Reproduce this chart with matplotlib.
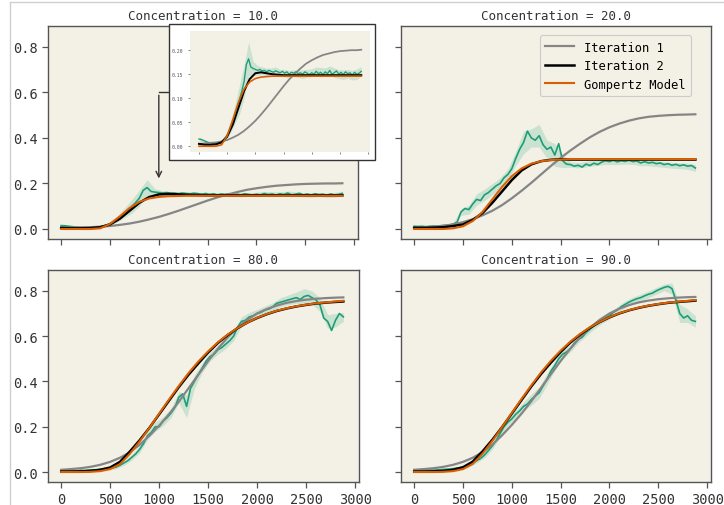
import matplotlib
matplotlib.use("Agg")
import matplotlib.pyplot as plt
import numpy as np
from matplotlib.patches import Rectangle
from matplotlib.lines import Line2D

plt.rcParams["font.family"] = ["DejaVu Sans Mono", "DejaVu Sans"]

# tiempos de las curvas ajustadas y de los datos medidos
t_fit = [0, 100, 200, 300, 400, 500, 600, 700, 800, 900, 1000, 1100, 1200, 1300,
         1400, 1500, 1600, 1700, 1800, 1900, 2000, 2100, 2200, 2300, 2400, 2500,
         2600, 2700, 2800, 2880]
t_data = list(range(0, 2881, 40))
t_band = list(range(0, 2881, 80))

concentrations = [10.0, 20.0, 80.0, 90.0]
labels = ["Iteration 1", "Iteration 2", "Gompertz Model"]

# Concentration = 10
gray_10 = [0.005, 0.006, 0.007, 0.008, 0.010, 0.013, 0.018, 0.024, 0.032, 0.042,
           0.053, 0.066, 0.080, 0.095, 0.110, 0.125, 0.139, 0.151, 0.162, 0.172,
           0.179, 0.185, 0.190, 0.193, 0.196, 0.198, 0.199, 0.200, 0.200, 0.201]
black_10 = [0.005, 0.003, 0.003, 0.004, 0.008, 0.020, 0.045, 0.080, 0.115, 0.140,
            0.152, 0.154, 0.152, 0.150, 0.149, 0.148, 0.148, 0.148, 0.148, 0.148,
            0.148, 0.148, 0.148, 0.148, 0.148, 0.148, 0.148, 0.148, 0.148, 0.148]
orange_10 = [0.000, 0.000, 0.000, 0.000, 0.003, 0.022, 0.055, 0.092, 0.119, 0.134,
             0.141, 0.144, 0.145, 0.146, 0.146, 0.146, 0.146, 0.146, 0.146, 0.146,
             0.146, 0.146, 0.146, 0.146, 0.146, 0.146, 0.146, 0.146, 0.146, 0.146]
green_10 = [0.015, 0.014, 0.012, 0.010, 0.008, 0.007, 0.006, 0.006, 0.007, 0.008,
            0.010, 0.014, 0.020, 0.028, 0.040, 0.052, 0.068, 0.080, 0.098, 0.115,
            0.135, 0.170, 0.182, 0.165, 0.162, 0.160, 0.158, 0.160, 0.157, 0.158,
            0.155, 0.158, 0.156, 0.154, 0.157, 0.155, 0.153, 0.156, 0.152, 0.155,
            0.150, 0.154, 0.152, 0.155, 0.151, 0.153, 0.150, 0.155, 0.152, 0.149,
            0.153, 0.150, 0.156, 0.151, 0.154, 0.149, 0.155, 0.151, 0.158, 0.150,
            0.153, 0.157, 0.150, 0.154, 0.149, 0.155, 0.151, 0.153, 0.148, 0.154,
            0.150, 0.152, 0.156]
spread_10 = [0.004, 0.003, 0.003, 0.003, 0.003, 0.003, 0.006, 0.012, 0.020, 0.030,
             0.035, 0.035, 0.015, 0.010, 0.008, 0.008, 0.007, 0.008, 0.007, 0.008,
             0.008, 0.007, 0.008, 0.009, 0.008, 0.008, 0.009, 0.010, 0.008, 0.009,
             0.010, 0.009, 0.010, 0.009, 0.010, 0.011, 0.010]

# Concentration = 20
gray_20 = [0.005, 0.007, 0.010, 0.014, 0.020, 0.030, 0.043, 0.060, 0.080, 0.105,
           0.135, 0.168, 0.203, 0.240, 0.277, 0.312, 0.345, 0.375, 0.403, 0.427,
           0.447, 0.463, 0.476, 0.486, 0.493, 0.497, 0.500, 0.502, 0.503, 0.504]
black_20 = [0.005, 0.005, 0.006, 0.008, 0.013, 0.020, 0.040, 0.070, 0.115, 0.165,
            0.215, 0.257, 0.284, 0.298, 0.304, 0.306, 0.305, 0.305, 0.305, 0.305,
            0.305, 0.305, 0.305, 0.305, 0.305, 0.305, 0.305, 0.305, 0.305, 0.305]
orange_20 = [0.000, 0.000, 0.000, 0.000, 0.003, 0.012, 0.035, 0.075, 0.130, 0.185,
             0.232, 0.266, 0.287, 0.298, 0.303, 0.305, 0.307, 0.307, 0.307, 0.307,
             0.307, 0.307, 0.307, 0.307, 0.307, 0.307, 0.307, 0.307, 0.307, 0.307]
green_20 = [0.012, 0.011, 0.012, 0.010, 0.012, 0.013, 0.012, 0.015, 0.016, 0.018,
            0.022, 0.030, 0.075, 0.090, 0.085, 0.110, 0.130, 0.125, 0.150, 0.160,
            0.175, 0.190, 0.200, 0.225, 0.240, 0.265, 0.310, 0.350, 0.380, 0.430,
            0.400, 0.390, 0.410, 0.370, 0.350, 0.360, 0.325, 0.375, 0.300, 0.285,
            0.283, 0.276, 0.280, 0.272, 0.285, 0.279, 0.289, 0.283, 0.294, 0.300,
            0.296, 0.302, 0.295, 0.300, 0.297, 0.302, 0.296, 0.299, 0.290, 0.296,
            0.290, 0.293, 0.287, 0.290, 0.283, 0.287, 0.280, 0.284, 0.278, 0.282,
            0.276, 0.279, 0.268]
spread_20 = [0.004, 0.004, 0.004, 0.004, 0.004, 0.005, 0.015, 0.020, 0.025, 0.025,
             0.025, 0.025, 0.025, 0.030, 0.050, 0.040, 0.050, 0.040, 0.050, 0.030,
             0.012, 0.012, 0.012, 0.012, 0.012, 0.013, 0.012, 0.012, 0.012, 0.012,
             0.012, 0.013, 0.012, 0.013, 0.013, 0.014, 0.015]

# Concentration = 80
gray_80 = [0.010, 0.013, 0.017, 0.023, 0.032, 0.045, 0.063, 0.087, 0.120, 0.160,
           0.205, 0.255, 0.310, 0.370, 0.430, 0.490, 0.545, 0.595, 0.637, 0.672,
           0.700, 0.720, 0.735, 0.747, 0.755, 0.761, 0.765, 0.768, 0.770, 0.771]
black_80 = [0.002, 0.002, 0.003, 0.005, 0.010, 0.020, 0.045, 0.090, 0.140, 0.195,
            0.255, 0.315, 0.375, 0.430, 0.480, 0.528, 0.570, 0.605, 0.635, 0.660,
            0.680, 0.697, 0.711, 0.722, 0.731, 0.738, 0.744, 0.748, 0.751, 0.753]
orange_80 = [0.000, 0.000, 0.000, 0.001, 0.004, 0.013, 0.035, 0.080, 0.135, 0.195,
             0.258, 0.320, 0.380, 0.437, 0.488, 0.533, 0.573, 0.607, 0.636, 0.660,
             0.681, 0.698, 0.712, 0.723, 0.732, 0.739, 0.745, 0.749, 0.753, 0.756]
green_80 = [0.005, 0.006, 0.006, 0.007, 0.006, 0.008, 0.007, 0.009, 0.010, 0.010,
            0.012, 0.015, 0.014, 0.018, 0.022, 0.030, 0.040, 0.050, 0.065, 0.080,
            0.100, 0.125, 0.160, 0.175, 0.200, 0.200, 0.225, 0.240, 0.260, 0.285,
            0.330, 0.345, 0.290, 0.370, 0.400, 0.430, 0.460, 0.490, 0.510, 0.520,
            0.540, 0.550, 0.565, 0.580, 0.600, 0.640, 0.665, 0.670, 0.685, 0.690,
            0.700, 0.705, 0.715, 0.720, 0.730, 0.745, 0.750, 0.755, 0.760, 0.765,
            0.770, 0.762, 0.775, 0.780, 0.770, 0.760, 0.740, 0.680, 0.665, 0.625,
            0.670, 0.700, 0.685]
spread_80 = [0.004, 0.004, 0.004, 0.004, 0.004, 0.004, 0.005, 0.008, 0.010, 0.012,
             0.015, 0.018, 0.020, 0.020, 0.020, 0.025, 0.050, 0.030, 0.020, 0.020,
             0.020, 0.020, 0.020, 0.020, 0.020, 0.018, 0.018, 0.018, 0.020, 0.022,
             0.025, 0.035, 0.030, 0.030, 0.030, 0.030, 0.020]

# Concentration = 90
gray_90 = [0.010, 0.013, 0.017, 0.023, 0.032, 0.045, 0.063, 0.088, 0.121, 0.162,
           0.208, 0.258, 0.313, 0.372, 0.432, 0.490, 0.545, 0.595, 0.637, 0.672,
           0.700, 0.721, 0.737, 0.749, 0.757, 0.763, 0.767, 0.770, 0.772, 0.773]
black_90 = [0.002, 0.002, 0.003, 0.005, 0.010, 0.021, 0.046, 0.091, 0.142, 0.198,
            0.258, 0.318, 0.378, 0.433, 0.483, 0.530, 0.572, 0.607, 0.637, 0.662,
            0.683, 0.700, 0.714, 0.725, 0.734, 0.741, 0.747, 0.751, 0.754, 0.757]
orange_90 = [0.000, 0.000, 0.000, 0.001, 0.004, 0.013, 0.036, 0.081, 0.137, 0.198,
             0.261, 0.323, 0.383, 0.440, 0.491, 0.536, 0.576, 0.610, 0.639, 0.663,
             0.684, 0.701, 0.715, 0.726, 0.735, 0.742, 0.748, 0.752, 0.756, 0.759]
green_90 = [0.008, 0.008, 0.007, 0.008, 0.009, 0.008, 0.010, 0.011, 0.012, 0.013,
            0.015, 0.018, 0.020, 0.025, 0.030, 0.040, 0.050, 0.060, 0.075, 0.095,
            0.115, 0.140, 0.170, 0.200, 0.220, 0.235, 0.255, 0.270, 0.290, 0.300,
            0.320, 0.335, 0.350, 0.380, 0.410, 0.445, 0.470, 0.500, 0.520, 0.530,
            0.545, 0.570, 0.585, 0.595, 0.615, 0.630, 0.645, 0.660, 0.670, 0.680,
            0.690, 0.705, 0.715, 0.730, 0.740, 0.750, 0.758, 0.765, 0.770, 0.778,
            0.785, 0.790, 0.800, 0.808, 0.815, 0.820, 0.810, 0.760, 0.700, 0.680,
            0.690, 0.670, 0.665]
spread_90 = [0.004, 0.004, 0.004, 0.004, 0.004, 0.004, 0.005, 0.008, 0.010, 0.012,
             0.015, 0.015, 0.015, 0.018, 0.020, 0.025, 0.025, 0.025, 0.020, 0.018,
             0.015, 0.015, 0.015, 0.015, 0.015, 0.015, 0.015, 0.015, 0.015, 0.015,
             0.015, 0.015, 0.015, 0.025, 0.040, 0.030, 0.025]

BG = "#f3f1e5"
GREEN = "#1b9e77"
ORANGE = "#d95f02"
GRAY = "#858585"
SPINE = "#555555"


def draw_panel(ax, green, spread, gray, black, orange, lw=1.0):
    ax.set_facecolor(BG)
    g = np.array(green)[::2]
    s = np.array(spread)
    ax.fill_between(t_band, g - s, g + s, color=GREEN, alpha=0.18, lw=0)
    ax.plot(t_data, green, color=GREEN, lw=1.2 * lw)
    ax.plot(t_fit, gray, color=GRAY, lw=1.6 * lw, label=labels[0])
    ax.plot(t_fit, black, color="black", lw=1.8 * lw, label=labels[1])
    ax.plot(t_fit, orange, color=ORANGE, lw=1.5 * lw, label=labels[2])


def style_axes(ax, title, show_x, show_y):
    ax.set_xlim(-135, 3040)
    ax.set_ylim(-0.044, 0.892)
    ax.set_xticks(range(0, 3001, 500))
    ax.set_yticks([0.0, 0.2, 0.4, 0.6, 0.8])
    ax.tick_params(colors="#333333", labelsize=9.8, length=4, width=0.9)
    ax.tick_params(axis="x", color=SPINE)
    ax.tick_params(axis="y", color=SPINE)
    if not show_x:
        ax.set_xticklabels([])
    if not show_y:
        ax.set_yticklabels([])
    for sp in ax.spines.values():
        sp.set_color(SPINE)
        sp.set_linewidth(1.0)
    ax.set_title(title, fontsize=9, color="#333333", pad=5)


fig = plt.figure(figsize=(7.24, 5.06), dpi=100)

# marco del notebook
fig.add_artist(Line2D([10 / 724, 10 / 724], [0, 1 - 3 / 506], color="#d0d0d0", lw=1.0))
fig.add_artist(Line2D([10 / 724, 1], [1 - 3 / 506, 1 - 3 / 506], color="#d0d0d0", lw=1.0))

rects = [
    [48 / 724, 1 - 240 / 506, 310 / 724, 213 / 506],
    [401 / 724, 1 - 240 / 506, 310 / 724, 213 / 506],
    [48 / 724, 1 - 483 / 506, 311 / 724, 212 / 506],
    [401 / 724, 1 - 483 / 506, 310 / 724, 212 / 506],
]
series = [
    (green_10, spread_10, gray_10, black_10, orange_10),
    (green_20, spread_20, gray_20, black_20, orange_20),
    (green_80, spread_80, gray_80, black_80, orange_80),
    (green_90, spread_90, gray_90, black_90, orange_90),
]

axes = []
for i, (rect, data, conc) in enumerate(zip(rects, series, concentrations)):
    ax = fig.add_axes(rect)
    draw_panel(ax, *data)
    style_axes(ax, f"Concentration = {conc}", show_x=i >= 2, show_y=i % 2 == 0)
    axes.append(ax)

leg = axes[1].legend(loc="upper right", bbox_to_anchor=(0.955, 0.985), fontsize=8.7,
                     frameon=True, facecolor=BG, edgecolor="#cccccc", framealpha=1,
                     handlelength=2.4, borderpad=0.45, labelspacing=0.45)
leg.get_frame().set_linewidth(0.8)

# flecha que apunta a la zona ampliada
arrow_x = 1000
arrow_top = 0.60
arrow_tip = 0.21
axes[0].plot([1110, arrow_x], [arrow_top, arrow_top], color="#333333", lw=1.0)
axes[0].annotate("", xy=(arrow_x, arrow_tip), xytext=(arrow_x, arrow_top),
                 arrowprops=dict(arrowstyle="->", color="#333333", lw=1.0))

# recuadro blanco del inset
fig.patches.append(Rectangle((169 / 724, 1 - 161 / 506), 206 / 724, 136 / 506,
                             transform=fig.transFigure, facecolor="white",
                             edgecolor="#333333", lw=1.0, zorder=3))

ins = fig.add_axes([190 / 724, 1 - 153 / 506, 180 / 724, 121 / 506], zorder=5)
draw_panel(ins, *series[0], lw=0.8)
ins.set_xlim(-160, 3035)
ins.set_ylim(-0.012, 0.24)
ins.set_xticks(range(0, 3001, 500))
ins.set_xticklabels([])
ins.set_yticks([0.0, 0.05, 0.10, 0.15, 0.20])
ins.set_yticklabels(["0.00", "0.05", "0.10", "0.15", "0.20"])
ins.tick_params(labelsize=3.5, length=1.5, width=0.5, colors="#555555")
for sp in ins.spines.values():
    sp.set_visible(False)

fig.savefig("out.png", dpi=100)
